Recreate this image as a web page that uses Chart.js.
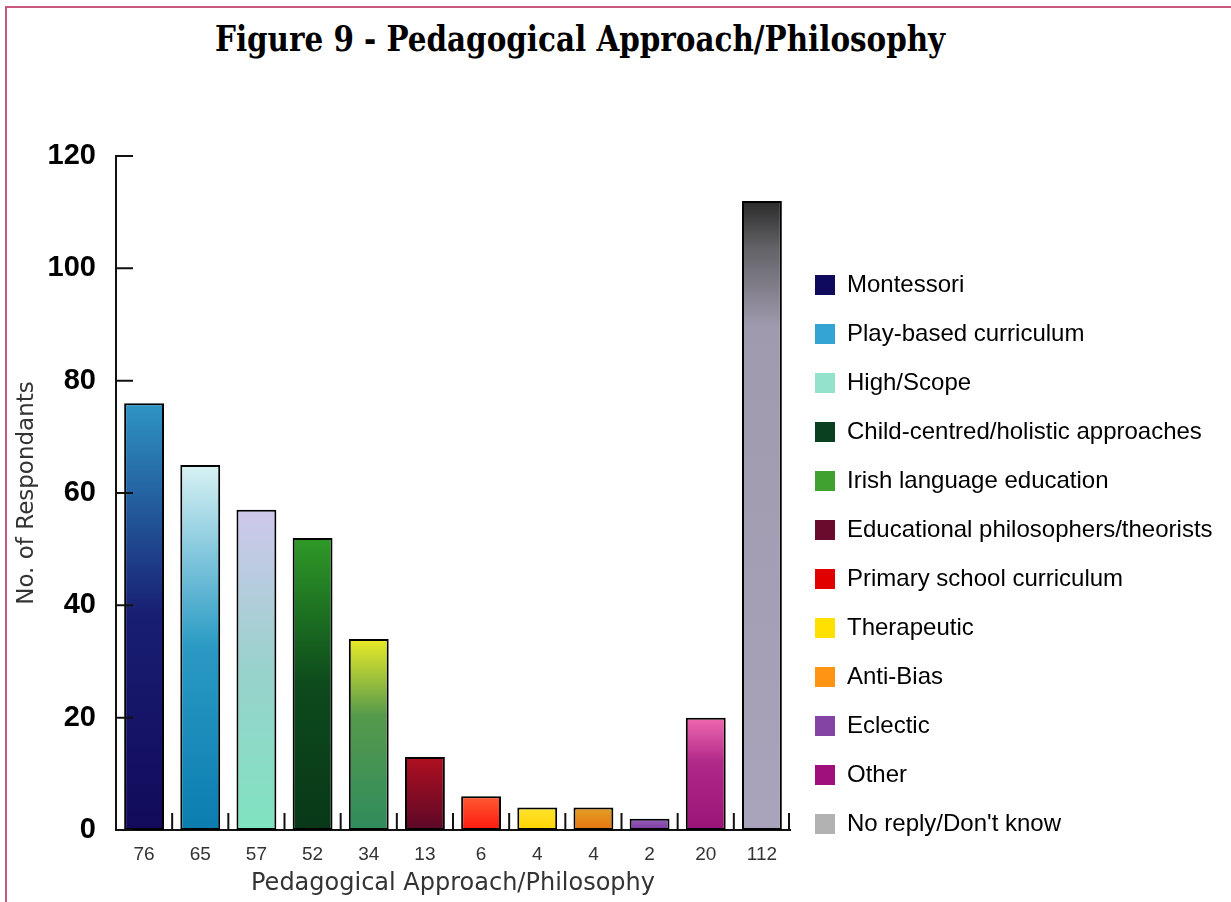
<!DOCTYPE html>
<html>
<head>
<meta charset="utf-8">
<script src="https://cdn.jsdelivr.net/npm/chart.js@4/dist/chart.umd.min.js"></script>
<style>
  html, body { margin: 0; padding: 0; background: #fff; }
  #wrap { position: relative; width: 1231px; height: 902px; overflow: hidden; }
  #frame { position: absolute; left: 5px; top: 6px; right: -4px; bottom: -4px;
           border-left: 2px solid #c8587c; border-top: 2px solid #c8587c; }
  #title { position: absolute; left: 215px; top: 17px; white-space: nowrap;
           font-family: "DejaVu Serif Condensed", "DejaVu Serif", serif; font-weight: bold;
           font-size: 36px; color: #000; transform-origin: 0 0; }
  canvas { position: absolute; left: 0; top: 0; }
</style>
</head>
<body>
<div id="wrap">
  <div id="frame"></div>
  <div id="title">Figure 9 - Pedagogical Approach/Philosophy</div>
  <canvas id="chart" width="1231" height="902"></canvas>
</div>
<script>
// категории и значения
const approaches = ['Montessori', 'Play-based curriculum', 'High/Scope',
  'Child-centred/holistic approaches', 'Irish language education',
  'Educational philosophers/theorists', 'Primary school curriculum',
  'Therapeutic', 'Anti-Bias', 'Eclectic', 'Other', "No reply/Don't know"];
const respondents = [76, 65, 57, 52, 34, 13, 6, 4, 4, 2, 20, 112];
const yTicks = [0, 20, 40, 60, 80, 100, 120];

// цвета легенды и градиенты столбцов (снизу вверх)
const legendColors = ['#100a5c', '#34a4d4', '#94e2cc', '#0a4020', '#40a030', '#6a0a2c',
  '#e00000', '#ffe000', '#ff9414', '#8444a4', '#a0107c', '#b2b2b2'];
const barStops = [
  [[0, '#120a5a'], [0.5, '#181e72'], [1, '#2e95c4']],
  [[0, '#0b7db0'], [0.5, '#2a9ac4'], [1, '#d8f2f4']],
  [[0, '#7fe3c0'], [0.5, '#98d2cc'], [1, '#cfc8ec']],
  [[0, '#083818'], [0.5, '#0d4a1c'], [1, '#2f9a28']],
  [[0, '#2f8c5c'], [0.6, '#559a4c'], [1, '#eaea28']],
  [[0, '#5c0828'], [1, '#b01020']],
  [[0, '#ff1a10'], [1, '#ff5a30']],
  [[0, '#ffd400'], [1, '#ffe430']],
  [[0, '#e87410'], [1, '#e0a024']],
  [[0, '#7a3aa0'], [1, '#9a60b8']],
  [[0, '#9a1478'], [0.6, '#b02888'], [1, '#f068b0']],
  [[0, '#a9a3bb'], [0.8, '#a09aae'], [0.93, '#606064'], [1, '#2a2a2a']]
];

// подгоняем ширину заголовка
const titleEl = document.getElementById('title');
titleEl.style.transform = 'scaleX(' + (730 / titleEl.offsetWidth) + ')';

const legendFont = { family: '"Liberation Sans", Arial, sans-serif', size: 24, lineHeight: 1 };
const legendPad = 25;
const plotRight = 790;
const mctx = document.createElement('canvas').getContext('2d');
mctx.font = '24px "Liberation Sans", Arial, sans-serif';
const widest = Math.max(...approaches.map(t => mctx.measureText(t).width));
const rightPad = 1231 - plotRight - (legendPad + 20 + 12 + widest + 10);

function barFill(context) {
  const chart = context.chart;
  const i = context.dataIndex;
  if (!chart.chartArea || context.type !== 'data') return legendColors[i];
  const y = chart.scales.y;
  const g = chart.ctx.createLinearGradient(0, y.getPixelForValue(0), 0, y.getPixelForValue(respondents[i]));
  barStops[i].forEach(s => g.addColorStop(s[0], s[1]));
  return g;
}

// внутренние засечки на осях
const innerTicks = {
  id: 'innerTicks',
  afterDatasetsDraw(chart) {
    const { ctx, chartArea, scales } = chart;
    ctx.save();
    ctx.strokeStyle = '#111';
    ctx.lineWidth = 2;
    ctx.beginPath();
    yTicks.forEach(v => {
      const py = scales.y.getPixelForValue(v);
      ctx.moveTo(chartArea.left, py);
      ctx.lineTo(chartArea.left + 17, py);
    });
    for (let i = 0; i < respondents.length; i++) {
      const px = i === respondents.length - 1 ? chartArea.right - 1
        : (scales.x.getPixelForValue(i) + scales.x.getPixelForValue(i + 1)) / 2;
      ctx.moveTo(px, chartArea.bottom);
      ctx.lineTo(px, chartArea.bottom - 17);
    }
    ctx.stroke();
    ctx.restore();
  }
};

new Chart(document.getElementById('chart').getContext('2d'), {
  type: 'bar',
  data: {
    labels: respondents.map(String),
    datasets: [{
      label: 'No. of Respondants',
      data: respondents,
      backgroundColor: barFill,
      borderColor: '#000',
      borderWidth: 2,
      borderSkipped: false,
      barPercentage: 0.71,
      categoryPercentage: 1
    }]
  },
  options: {
    responsive: false,
    animation: false,
    layout: { padding: { top: 156, left: 0, right: rightPad, bottom: 41 } },
    plugins: {
      tooltip: { enabled: false },
      legend: {
        position: 'right',
        align: 'end',
        maxWidth: 480,
        labels: {
          boxWidth: 20,
          boxHeight: 20,
          padding: legendPad,
          color: '#111',
          font: legendFont,
          generateLabels: () => approaches.map((name, i) => ({
            text: name,
            fillStyle: legendColors[i],
            strokeStyle: legendColors[i],
            lineWidth: 0,
            index: i
          }))
        }
      }
    },
    scales: {
      x: {
        offset: true,
        grid: { display: false },
        border: { display: true, color: '#111', width: 2 },
        ticks: { color: '#333', padding: 5, font: { family: '"Liberation Sans", Arial, sans-serif', size: 19 } },
        title: {
          display: true,
          text: 'Pedagogical Approach/Philosophy',
          color: '#333',
          font: { family: '"DejaVu Sans", sans-serif', size: 24 },
          padding: { top: 0, bottom: -37 }
        },
        afterFit: s => { s.height = 31; }
      },
      y: {
        min: 0,
        max: 120,
        grid: { display: false },
        border: { display: true, color: '#111', width: 2 },
        afterBuildTicks: s => { s.ticks = yTicks.map(v => ({ value: v })); },
        ticks: { color: '#000', padding: 12, font: { family: '"Liberation Sans", Arial, sans-serif', size: 29, weight: 'bold' } },
        title: {
          display: true,
          text: 'No. of Respondants',
          color: '#333',
          font: { family: '"DejaVu Sans", sans-serif', size: 23 },
          padding: { top: 13, bottom: 0 }
        },
        afterFit: s => { s.width = 116; }
      }
    }
  },
  plugins: [innerTicks]
});
</script>
</body>
</html>
